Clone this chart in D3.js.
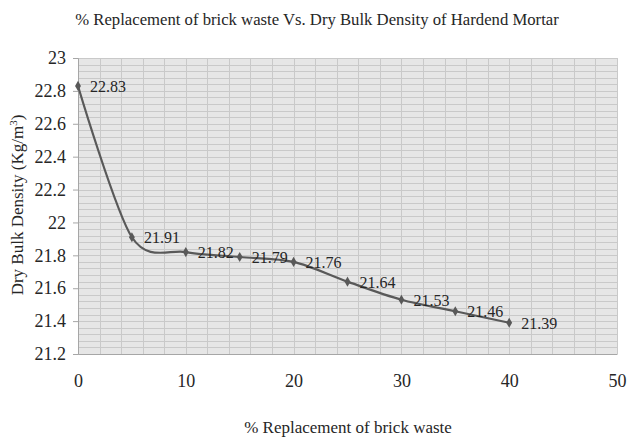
<!DOCTYPE html>
<html><head><meta charset="utf-8">
<script src="https://cdn.jsdelivr.net/npm/d3@7/dist/d3.min.js"></script>
<style>body{margin:0;background:#fff}svg{display:block}svg text{font-family:"Liberation Serif","Times New Roman",serif !important}</style>
</head><body><svg id="c" width="628" height="446"></svg>
<script>
const replacement = [0, 5, 10, 15, 20, 25, 30, 35, 40];
const density = [22.83, 21.91, 21.82, 21.79, 21.76, 21.64, 21.53, 21.46, 21.39];
const xTicks = [0, 10, 20, 30, 40, 50];
const yTicks = [21.2, 21.4, 21.6, 21.8, 22, 22.2, 22.4, 22.6, 22.8, 23];
const title = "% Replacement of brick waste Vs. Dry Bulk Density of Hardend Mortar";
const xTitle = "% Replacement of brick waste";

const svg = d3.select("#c");
const L = 78, R = 617, T = 58, B = 354;
const x = d3.scaleLinear().domain([0, 50]).range([L, R]);
const y = d3.scaleLinear().domain([21.2, 23]).range([B, T]);

svg.append("rect").attr("x", L).attr("y", T).attr("width", R - L).attr("height", B - T).attr("fill", "#e6e6e6");

const grid = svg.append("g").attr("stroke", "#c9c9c9").attr("stroke-width", 1);
d3.range(0, 50.001, 2).forEach(v => {
  const px = Math.round(x(v)) + 0.5;
  grid.append("line").attr("x1", px).attr("x2", px).attr("y1", T).attr("y2", B);
});
d3.range(21.2, 23.0001, 0.04).forEach(v => {
  const py = Math.round(y(v)) + 0.5;
  grid.append("line").attr("x1", L).attr("x2", R).attr("y1", py).attr("y2", py);
});

// axes
const yAxis = d3.axisLeft(y).tickValues(yTicks).tickSize(5).tickPadding(7).tickFormat(d3.format("~g"));
const gy = svg.append("g").attr("transform", `translate(${L},0)`).call(yAxis);
gy.select(".domain").attr("stroke", "#a6a6a6");
gy.selectAll(".tick line").attr("stroke", "#a6a6a6");
gy.selectAll("text").attr("fill", "#262626").style("font-size", "18px");

const xAxis = d3.axisBottom(x).tickValues(xTicks).tickSize(0).tickPadding(20);
const gx = svg.append("g").attr("transform", `translate(0,${B})`).call(xAxis);
gx.select(".domain").attr("stroke", "#a6a6a6");
gx.selectAll("text").attr("fill", "#262626").style("font-size", "18px");

// line
const pts = replacement.map((r, i) => [r, density[i]]);
const line = d3.line().x(d => x(d[0])).y(d => y(d[1])).curve(d3.curveCardinal.tension(0.1));
svg.append("path").attr("d", line(pts)).attr("fill", "none").attr("stroke", "#595959").attr("stroke-width", 2.2);

svg.append("g").selectAll("path").data(pts).join("path")
  .attr("d", d3.symbol(d3.symbolDiamond, 30)())
  .attr("transform", d => `translate(${x(d[0])},${y(d[1])})`)
  .attr("fill", "#595959");

svg.append("g").selectAll("text").data(pts).join("text")
  .attr("x", d => x(d[0]) + 12).attr("y", d => y(d[1]) + 6)
  .style("font-size", "16px").attr("fill", "#262626")
  .text(d => d[1].toFixed(2));

svg.append("text").attr("x", 317).attr("y", 25).attr("text-anchor", "middle")
  .style("font-size", "16.7px").attr("fill", "#262626").text(title);
svg.append("text").attr("x", 348).attr("y", 433).attr("text-anchor", "middle")
  .style("font-size", "17px").attr("fill", "#262626").text(xTitle);
svg.append("text").attr("transform", "translate(23,205) rotate(-90)").attr("text-anchor", "middle")
  .style("font-size", "17px").attr("fill", "#262626")
  .html('Dry Bulk Density (Kg/m<tspan dy="-6" style="font-size:11px">3</tspan><tspan dy="6">)</tspan>');
</script></body></html>
